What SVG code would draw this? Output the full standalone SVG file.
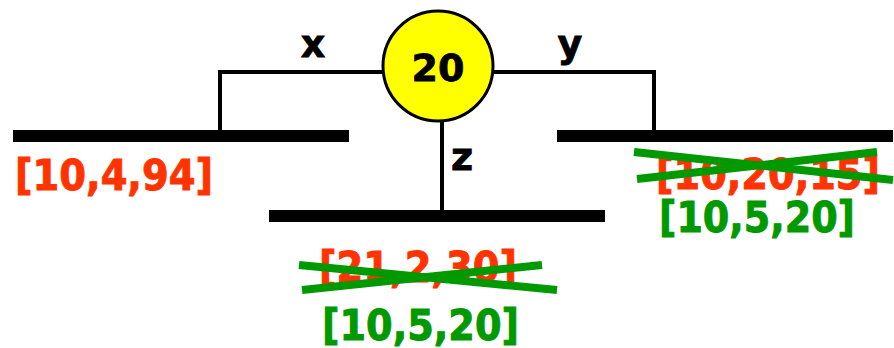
<svg xmlns="http://www.w3.org/2000/svg" width="894" height="348" viewBox="0 0 894 348">
<style>
.bar{stroke:#000;stroke-width:12;fill:none}
.ln{stroke:#000;stroke-width:4;fill:none}
.lbl{font-family:"DejaVu Sans","Verdana",sans-serif;font-weight:bold;font-size:38px;fill:#000;stroke:#000;stroke-width:0.8}
.val{font-family:"DejaVu Sans","Verdana",sans-serif;font-weight:bold;font-size:43px;stroke-width:1}
.red{fill:#ff3300;stroke:#ff3300}
.grn{fill:#009900;stroke:#009900}
.cross{stroke:#009900;stroke-width:8;fill:none}
</style>
<g id="connectors">
<polyline class="ln" points="382,72 220,72 220,136"/>
<polyline class="ln" points="494,72 654,72 654,136"/>
<line class="ln" x1="442" y1="121" x2="442" y2="216"/>
<text class="lbl" x="313" y="57" text-anchor="middle">x</text>
<text class="lbl" x="570" y="57" text-anchor="middle">y</text>
<text class="lbl" x="462" y="170" text-anchor="middle">z</text>
</g>
<g id="node-center">
<circle cx="438" cy="66" r="55" fill="#ffff00" stroke="#000" stroke-width="3"/>
<text class="lbl" x="438" y="81" text-anchor="middle" font-size="40">20</text>
</g>
<g id="node-left">
<line class="bar" x1="13" y1="136" x2="349" y2="136"/>
<text class="val red" x="15" y="190" textLength="198" lengthAdjust="spacingAndGlyphs">[10,4,94]</text>
</g>
<g id="node-right">
<line class="bar" x1="557" y1="136" x2="893" y2="136"/>
<text class="val red" x="656" y="189" textLength="224" lengthAdjust="spacingAndGlyphs">[10,20,15]</text>
<line class="cross" x1="634" y1="152" x2="893" y2="180"/>
<line class="cross" x1="637" y1="179" x2="877" y2="152"/>
<text class="val grn" x="659" y="232" textLength="196" lengthAdjust="spacingAndGlyphs">[10,5,20]</text>
</g>
<g id="node-bottom">
<line class="bar" x1="269" y1="216" x2="605" y2="216"/>
<text class="val red" x="319" y="282" textLength="198" lengthAdjust="spacingAndGlyphs">[21,2,30]</text>
<line class="cross" x1="299" y1="265" x2="557" y2="290"/>
<line class="cross" x1="302" y1="290" x2="542" y2="265"/>
<text class="val grn" x="322" y="340" textLength="197" lengthAdjust="spacingAndGlyphs">[10,5,20]</text>
</g>
</svg>
